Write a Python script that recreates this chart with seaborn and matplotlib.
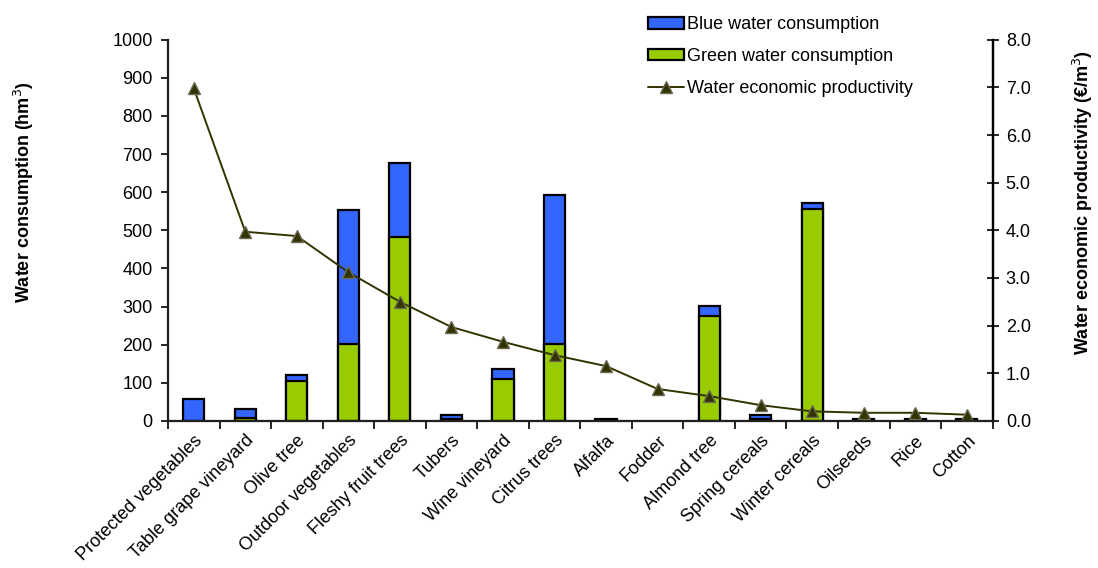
import matplotlib
matplotlib.use("Agg")
import matplotlib.pyplot as plt
import matplotlib.ticker as mticker
from matplotlib.patches import Patch
from matplotlib.lines import Line2D
import numpy as np
import pandas as pd
import seaborn as sns

crops = ["Protected vegetables", "Table grape vineyard", "Olive tree", "Outdoor vegetables",
         "Fleshy fruit trees", "Tubers", "Wine vineyard", "Citrus trees", "Alfalfa", "Fodder",
         "Almond tree", "Spring cereals", "Winter cereals", "Oilseeds", "Rice", "Cotton"]
green_hm3 = [0, 8, 105, 202, 482, 4, 110, 203, 1, 0, 276, 4, 555, 2, 2, 2]
blue_hm3 = [57, 24, 16, 352, 195, 12, 26, 390, 3, 0, 26, 12, 17, 3, 3, 3]
productivity = [6.98, 3.97, 3.88, 3.12, 2.50, 1.97, 1.66, 1.38, 1.15, 0.67, 0.52, 0.33,
                0.20, 0.17, 0.17, 0.13]

BLUE = "#3366FF"
GREEN = "#99CC00"
OLIVE = "#333300"
FS = 13

sns.set_theme(style="white")
plt.rcParams["font.family"] = ["Liberation Sans", "DejaVu Sans"]
plt.rcParams.update({"text.color": "black", "axes.labelcolor": "black",
                     "xtick.color": "black", "ytick.color": "black"})

df = pd.DataFrame({
    "crop": crops,
    "green": green_hm3,
    "total": np.array(green_hm3) + np.array(blue_hm3),
    "wep": productivity,
})

fig = plt.figure(figsize=(10.98, 5.68), dpi=100)
ax = fig.add_axes([0.153, 0.259, 0.751, 0.671])

# stacked bars: total (blue) behind, green share in front
sns.barplot(data=df, x="crop", y="total", color=BLUE, width=0.41, saturation=1,
            edgecolor="black", linewidth=1.6, ax=ax)
sns.barplot(data=df, x="crop", y="green", color=GREEN, width=0.41, saturation=1,
            edgecolor="black", linewidth=1.6, ax=ax)
# hide zero-height bars
for p in ax.patches:
    if p.get_height() <= 0:
        p.set_visible(False)

ax.set_xlim(-0.5, len(crops) - 0.5)
ax.set_ylim(0, 1000)
ax.yaxis.set_major_locator(mticker.MultipleLocator(100))
ax.set_xlabel("")
ax.set_ylabel("Water consumption (hm$^3$)", fontsize=FS, fontweight="bold")
ax.yaxis.set_label_coords(-0.1595, 0.60)
ax.tick_params(axis="y", which="major", direction="out", length=5, width=1.2,
               labelsize=FS, colors="black", left=True, pad=6)
ax.set_xticks(range(len(crops)))
ax.set_xticklabels(crops, rotation=45, ha="right", rotation_mode="anchor", fontsize=FS)
ax.tick_params(axis="x", which="major", length=0, pad=8, labelcolor="black")
ax.set_xticks(np.arange(-0.5, len(crops)), minor=True)
ax.tick_params(axis="x", which="minor", direction="out", length=6, width=1.2,
               bottom=True, colors="black")
ax.spines["top"].set_visible(False)
for s in ["left", "bottom", "right"]:
    ax.spines[s].set_color("black")
    ax.spines[s].set_linewidth(1.6)

ax2 = ax.twinx()
sns.pointplot(data=df, x="crop", y="wep", color=OLIVE, markers="^", markersize=9,
              linewidth=1.4, ax=ax2)
for line in ax2.lines:
    line.set_markeredgecolor("#6b6b55")
    line.set_markeredgewidth(1.0)
ax2.set_xlim(-0.5, len(crops) - 0.5)
ax2.set_ylim(0, 8)
ax2.yaxis.set_major_locator(mticker.MultipleLocator(1))
ax2.yaxis.set_major_formatter(mticker.FormatStrFormatter("%.1f"))
ax2.set_ylabel("Water economic productivity (€/m$^3$)", fontsize=FS, fontweight="bold")
ax2.yaxis.set_label_coords(1.0955, 0.572)
ax2.tick_params(axis="y", direction="inout", length=9, width=1.2, labelsize=FS,
                colors="black", right=True, pad=5)
ax2.spines["top"].set_visible(False)
ax2.spines["right"].set_color("black")
ax2.spines["right"].set_linewidth(1.6)
ax2.grid(False)
ax.grid(False)

handles = [
    Patch(facecolor=BLUE, edgecolor="black", linewidth=1.6, label="Blue water consumption"),
    Patch(facecolor=GREEN, edgecolor="black", linewidth=1.6, label="Green water consumption"),
    Line2D([], [], color=OLIVE, marker="^", markersize=8, linewidth=1.4,
           markeredgecolor="#6b6b55", label="Water economic productivity"),
]
fig.legend(handles=handles, loc="upper left", bbox_to_anchor=(0.575, 1.0),
           frameon=False, fontsize=FS, labelspacing=0.82, handlelength=2.0,
           handleheight=0.6, handletextpad=0.2)

fig.savefig("out.png", dpi=100)
